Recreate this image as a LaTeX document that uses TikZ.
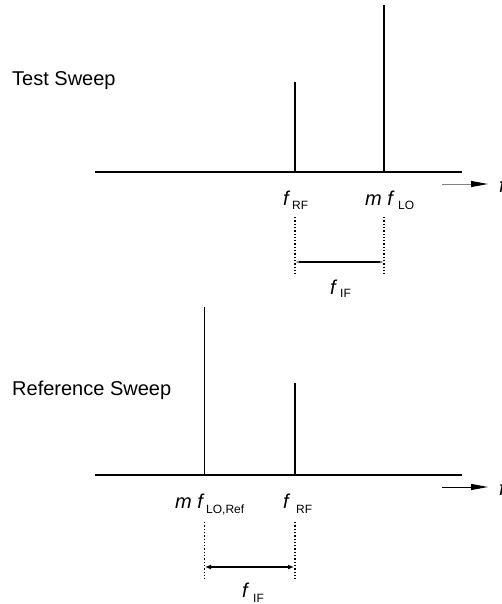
\documentclass[tikz,border=0pt]{standalone}
\usepackage{fontspec}
\setmainfont{Liberation Sans}
\usetikzlibrary{arrows.meta}
\begin{document}
\begin{tikzpicture}[x=1pt,y=-1pt,
  lbl/.style={inner sep=0pt,anchor=base west,font=\fontsize{20}{22}\selectfont},
  sub/.style={inner sep=0pt,anchor=base west,font=\fontsize{12}{14}\selectfont},
  axisline/.style={line width=2pt},
  spike/.style={line width=2pt},
  thinspike/.style={line width=1pt},
  guide/.style={line width=1.3pt,dotted},
  span/.style={line width=1.5pt,{Latex[length=4pt,width=3pt,color=gray]}-{Latex[length=4pt,width=3pt,color=gray]}},
  span2/.style={line width=2pt,{Latex[length=6pt,width=5pt]}-{Latex[length=6pt,width=5pt]}},
  dirarrow/.style={line width=1pt,-{Triangle[length=17pt,width=6pt,color=black]}}]
\useasboundingbox (0,0) rectangle (502,604);
% ---------- Test sweep ----------
\node[lbl] (ttest) at (12,86) {Test Sweep};
\coordinate (a1) at (95,172);
\coordinate (a2) at (462,172);
\draw[axisline] (a1) -- (a2);
\coordinate (rfb) at (295,172); \coordinate (rft) at (295,82);
\coordinate (lob) at (384,172); \coordinate (lot) at (384,5);
\draw[spike] (rfb) -- (rft);
\draw[spike] (lob) -- (lot);
\node[lbl] (frf) at (283,205) {\textit{f}};
\node[sub] (frfs) at (292,209) {RF};
\node[lbl] (mflo) at (365,205) {\textit{m f}};
\node[sub] (mflos) at (398,209) {LO};
\coordinate (d1t) at (295,217); \coordinate (d1b) at (295,275);
\coordinate (d2t) at (384,217); \coordinate (d2b) at (384,275);
\draw[guide] (d1t) -- (d1b);
\draw[guide] (d2t) -- (d2b);
\coordinate (s1) at (295,262); \coordinate (s2) at (384,262);
\draw[span] (s1) -- (s2);
\node[lbl] (fif) at (330,294) {\textit{f}};
\node[sub] (fifs) at (340,297) {IF};
\coordinate (ar1) at (442,184); \coordinate (ar2) at (488,184);
\draw[dirarrow,draw=gray] (ar1) -- (ar2);
\node[lbl] (fax1) at (499,192) {\textit{f}};
% ---------- Reference sweep ----------
\node[lbl] (tref) at (12,395) {Reference Sweep};
\coordinate (b1) at (95,475);
\coordinate (b2) at (462,475);
\draw[axisline] (b1) -- (b2);
\coordinate (lrb) at (204,475); \coordinate (lrt) at (204,307);
\coordinate (rrb) at (295,475); \coordinate (rrt) at (295,383);
\draw[thinspike] (lrb) -- (lrt);
\draw[spike] (rrb) -- (rrt);
\node[lbl] (mflr) at (175,508) {\textit{m f}};
\node[sub] (mflrs) at (206,513) {LO,Ref};
\node[lbl] (frf2) at (283,508) {\textit{f}};
\node[sub] (frf2s) at (296,513) {RF};
\coordinate (e1t) at (204,522); \coordinate (e1b) at (204,580);
\coordinate (e2t) at (295,522); \coordinate (e2b) at (295,580);
\draw[guide,line width=1pt] (e1t) -- (e1b);
\draw[guide] (e2t) -- (e2b);
\coordinate (t1) at (205,567); \coordinate (t2) at (294,567);
\draw[span2] (t1) -- (t2);
\node[lbl] (fif2) at (242,597) {\textit{f}};
\node[sub] (fif2s) at (253,602) {IF};
\coordinate (br1) at (442,487); \coordinate (br2) at (488,487);
\draw[dirarrow] (br1) -- (br2);
\node[lbl] (fax2) at (499,495) {\textit{f}};
\end{tikzpicture}
\end{document}
